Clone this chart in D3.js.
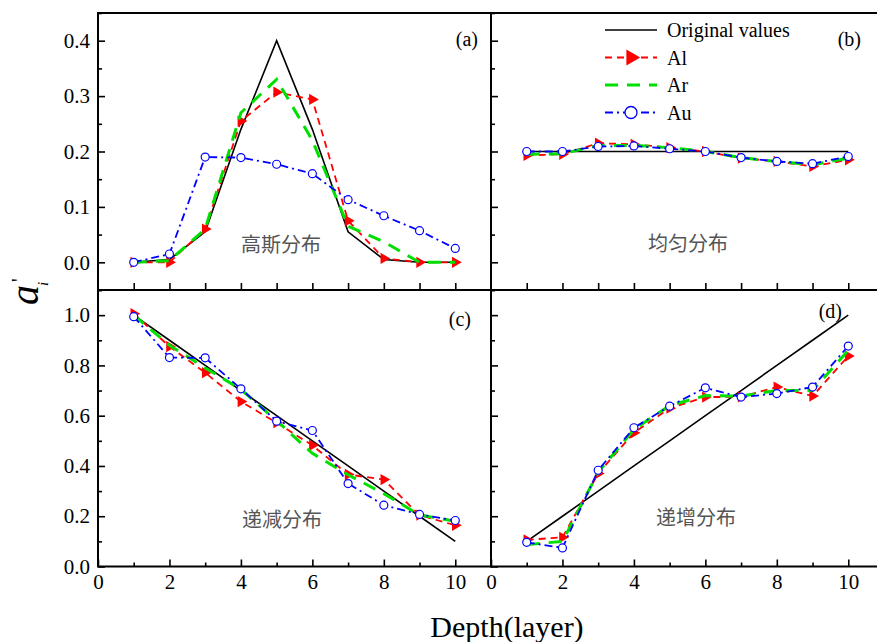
<!DOCTYPE html>
<html>
<head>
<meta charset="utf-8">
<script src="https://cdn.jsdelivr.net/npm/d3@7"></script>
<style>
  body { margin: 0; background: #fff; }
  svg { display: block; }
  text { font-family: "Liberation Serif", "DejaVu Serif", serif; }
  .tick text { font-family: "Liberation Serif", serif !important; font-size: 21px; }
  .cn { font-family: "Noto Sans CJK SC", sans-serif; fill: #555; }
</style>
</head>
<body>
<div id="chart"></div>
<script>
// depth (layer) values
const depth = [1, 2, 3, 4, 5, 6, 7, 8, 9, 10];

// (a) gaussian
const gaussOrig = [0, 0.005, 0.055, 0.24, 0.4, 0.24, 0.055, 0.005, 0, 0];
const gaussAl = [0, 0, 0.06, 0.255, 0.307, 0.294, 0.075, 0.007, 0, 0];
const gaussAr = [0, 0.003, 0.06, 0.27, 0.33, 0.22, 0.065, 0.037, 0, 0];
const gaussAu = [0, 0.015, 0.19, 0.189, 0.177, 0.16, 0.113, 0.084, 0.057, 0.025];

// (b) uniform
const uniOrig = [0.2, 0.2, 0.2, 0.2, 0.2, 0.2, 0.2, 0.2, 0.2, 0.2];
const uniAl = [0.193, 0.195, 0.215, 0.213, 0.207, 0.2, 0.188, 0.182, 0.173, 0.185];
const uniAr = [0.195, 0.196, 0.211, 0.211, 0.207, 0.2, 0.189, 0.182, 0.176, 0.188];
const uniAu = [0.2, 0.2, 0.209, 0.21, 0.205, 0.2, 0.189, 0.182, 0.178, 0.191];

// (c) decreasing
const decOrig = [1.0, 0.9, 0.8, 0.7, 0.6, 0.5, 0.4, 0.3, 0.2, 0.1];
const decAl = [1.006, 0.875, 0.771, 0.656, 0.572, 0.482, 0.366, 0.346, 0.204, 0.164];
const decAr = [1.0, 0.88, 0.79, 0.705, 0.58, 0.45, 0.365, 0.29, 0.205, 0.18];
const decAu = [0.994, 0.831, 0.83, 0.707, 0.578, 0.541, 0.33, 0.244, 0.207, 0.183];

// (d) increasing
const incOrig = [0.1, 0.2, 0.3, 0.4, 0.5, 0.6, 0.7, 0.8, 0.9, 1.0];
const incAl = [0.106, 0.116, 0.37, 0.532, 0.63, 0.674, 0.675, 0.714, 0.678, 0.837];
const incAr = [0.087, 0.1, 0.375, 0.545, 0.64, 0.68, 0.678, 0.7, 0.7, 0.86];
const incAu = [0.096, 0.074, 0.383, 0.552, 0.638, 0.711, 0.674, 0.688, 0.714, 0.877];

const seriesNames = ["Original values", "Al", "Ar", "Au"];
const topYTicks = [0, 0.1, 0.2, 0.3, 0.4];
const topYMinor = [-0.05, 0.05, 0.15, 0.25, 0.35, 0.45];
const botYTicks = [0, 0.2, 0.4, 0.6, 0.8, 1.0];
const botYMinor = [0.1, 0.3, 0.5, 0.7, 0.9, 1.1];
const botXTicks = [0, 2, 4, 6, 8, 10];
const botXMinor = [1, 3, 5, 7, 9];

const W = 877, H = 642;
const svg = d3.select("#chart").append("svg")
    .attr("width", W)
    .attr("height", H);

const padL = 98, padMid = 491, padR = 884;
const padT = 13, padMidY = 290, padB = 566.5;

const styles = {
    orig: {stroke: "#000", width: 1.6, dash: null},
    al: {stroke: "#ff0000", width: 1.8, dash: "7,5"},
    ar: {stroke: "#00e000", width: 3, dash: "13,9"},
    au: {stroke: "#0000ff", width: 1.8, dash: "8,4,2,4"}
};

const tri = d3.symbol().type(d3.symbolTriangle).size(55);
const triBig = d3.symbol().type(d3.symbolTriangle).size(110);

function drawPanel(cfg)
{
    let g = svg.append("g");
    let x = d3.scaleLinear().domain([0, 11]).range([cfg.x0, cfg.x1]);
    let y = d3.scaleLinear().domain(cfg.yDomain).range([cfg.y1, cfg.y0]);

    let line = d3.line()
        .x((d, i) => x(depth[i]))
        .y(d => y(d));

    // left axis, inward ticks
    let yAxis = d3.axisLeft(y)
        .tickValues(cfg.yTicks)
        .tickSizeInner(-7)
        .tickSizeOuter(0)
        .tickPadding(8)
        .tickFormat(cfg.showY ? d3.format(".1f") : "");
    let ya = g.append("g")
        .attr("transform", `translate(${cfg.x0},0)`)
        .call(yAxis);
    let yMin = g.append("g")
        .attr("transform", `translate(${cfg.x0},0)`)
        .call(d3.axisLeft(y).tickValues(cfg.yMinor).tickSizeInner(-4).tickSizeOuter(0).tickFormat(""));

    // bottom axis
    let xAxis = d3.axisBottom(x)
        .tickValues(cfg.xTicks)
        .tickSizeInner(-7)
        .tickSizeOuter(0)
        .tickPadding(8)
        .tickFormat(cfg.showX ? d3.format("d") : "");
    let xa = g.append("g")
        .attr("transform", `translate(0,${cfg.y1})`)
        .call(xAxis);
    let xMin = null;
    if (cfg.xMinor) {
        xMin = g.append("g")
            .attr("transform", `translate(0,${cfg.y1})`)
            .call(d3.axisBottom(x).tickValues(cfg.xMinor).tickSizeInner(-4).tickSizeOuter(0).tickFormat(""));
    }

    [ya, yMin, xa, xMin].forEach(a => {
        if (!a) return;
        a.attr("font-family", null).attr("font-size", null);
        a.select(".domain").remove();
        a.selectAll("line").attr("stroke", "#000").attr("stroke-width", 1.6);
        a.selectAll("text").attr("fill", "#000");
    });

    // frame
    g.append("rect")
        .attr("x", cfg.x0).attr("y", cfg.y0)
        .attr("width", cfg.x1 - cfg.x0).attr("height", cfg.y1 - cfg.y0)
        .attr("fill", "none").attr("stroke", "#000").attr("stroke-width", 2);

    // series
    let drawLine = function (data, st)
    {
        g.append("path")
            .datum(data)
            .attr("d", line)
            .attr("fill", "none")
            .attr("stroke", st.stroke)
            .attr("stroke-width", st.width)
            .attr("stroke-dasharray", st.dash);
    };

    drawLine(cfg.orig, styles.orig);
    drawLine(cfg.al, styles.al);
    g.selectAll(".altri")
        .data(cfg.al)
        .enter()
        .append("path")
        .attr("class", "altri")
        .attr("d", tri)
        .attr("transform", (d, i) => `translate(${x(depth[i])},${y(d)}) rotate(90)`)
        .attr("fill", "#ff0000");
    drawLine(cfg.ar, styles.ar);
    drawLine(cfg.au, styles.au);
    g.selectAll(".aucirc")
        .data(cfg.au)
        .enter()
        .append("circle")
        .attr("class", "aucirc")
        .attr("cx", (d, i) => x(depth[i]))
        .attr("cy", d => y(d))
        .attr("r", 4)
        .attr("fill", "#fff")
        .attr("stroke", "#0000ff")
        .attr("stroke-width", 1.2);

    // labels
    g.append("text")
        .attr("x", cfg.tagX).attr("y", cfg.tagY)
        .attr("text-anchor", "end")
        .style("font-size", "20px")
        .text(cfg.tag);

    g.append("text")
        .attr("class", "cn")
        .attr("x", cfg.cnX).attr("y", cfg.cnY)
        .attr("text-anchor", "middle")
        .attr("dominant-baseline", "central")
        .style("font-size", "20px")
        .text(cfg.cn);
}

drawPanel({x0: padL, x1: padMid, y0: padT, y1: padMidY, yDomain: [-0.05, 0.45],
    yTicks: topYTicks, yMinor: topYMinor, xTicks: depth, showY: true, showX: false,
    orig: gaussOrig, al: gaussAl, ar: gaussAr, au: gaussAu,
    tag: "(a)", tagX: 478, tagY: 46, cn: "高斯分布", cnX: 281, cnY: 243});

drawPanel({x0: padMid, x1: padR, y0: padT, y1: padMidY, yDomain: [-0.05, 0.45],
    yTicks: topYTicks, yMinor: topYMinor, xTicks: depth, showY: false, showX: false,
    orig: uniOrig, al: uniAl, ar: uniAr, au: uniAu,
    tag: "(b)", tagX: 861, tagY: 46, cn: "均匀分布", cnX: 688, cnY: 242});

drawPanel({x0: padL, x1: padMid, y0: padMidY, y1: padB, yDomain: [0, 1.1],
    yTicks: botYTicks, yMinor: botYMinor, xTicks: botXTicks, xMinor: botXMinor, showY: true, showX: true,
    orig: decOrig, al: decAl, ar: decAr, au: decAu,
    tag: "(c)", tagX: 471, tagY: 326, cn: "递减分布", cnX: 282, cnY: 518});

drawPanel({x0: padMid, x1: padR, y0: padMidY, y1: padB, yDomain: [0, 1.1],
    yTicks: botYTicks, yMinor: botYMinor, xTicks: botXTicks, xMinor: botXMinor, showY: false, showX: true,
    orig: incOrig, al: incAl, ar: incAr, au: incAu,
    tag: "(d)", tagX: 842, tagY: 318, cn: "递增分布", cnX: 696, cnY: 516});

// legend
let legend = svg.append("g").attr("transform", "translate(605,30)");
let keys = ["orig", "al", "ar", "au"];
keys.forEach((k, i) => {
    let row = legend.append("g").attr("transform", `translate(0,${i * 27.5})`);
    let st = styles[k];
    row.append("line")
        .attr("x1", 0).attr("x2", 52).attr("y1", 0).attr("y2", 0)
        .attr("stroke", st.stroke)
        .attr("stroke-width", st.width)
        .attr("stroke-dasharray", st.dash);
    if (k === "al") {
        row.append("path").attr("d", triBig)
            .attr("transform", "translate(26,0) rotate(90)")
            .attr("fill", "#ff0000");
    }
    if (k === "au") {
        row.append("circle").attr("cx", 26).attr("cy", 0).attr("r", 6)
            .attr("fill", "#fff").attr("stroke", "#0000ff").attr("stroke-width", 1.3);
    }
    row.append("text")
        .attr("x", 62).attr("y", 0)
        .attr("dominant-baseline", "central")
        .style("font-size", "20px")
        .text(seriesNames[i]);
});

// axis titles: a'_i rotated
let yt = svg.append("g").attr("transform", "translate(38,296) rotate(-90)");
yt.append("text")
    .attr("x", -9).attr("y", 0)
    .style("font-size", "40px")
    .style("font-style", "italic")
    .text("a");
yt.append("text")
    .attr("x", 14).attr("y", -12)
    .style("font-size", "20px")
    .text("'");
yt.append("text")
    .attr("x", 10).attr("y", 10)
    .style("font-size", "15px")
    .style("font-style", "italic")
    .text("i");

svg.append("text")
    .attr("x", 507).attr("y", 637)
    .attr("text-anchor", "middle")
    .style("font-size", "30px")
    .text("Depth(layer)");
</script>
</body>
</html>
